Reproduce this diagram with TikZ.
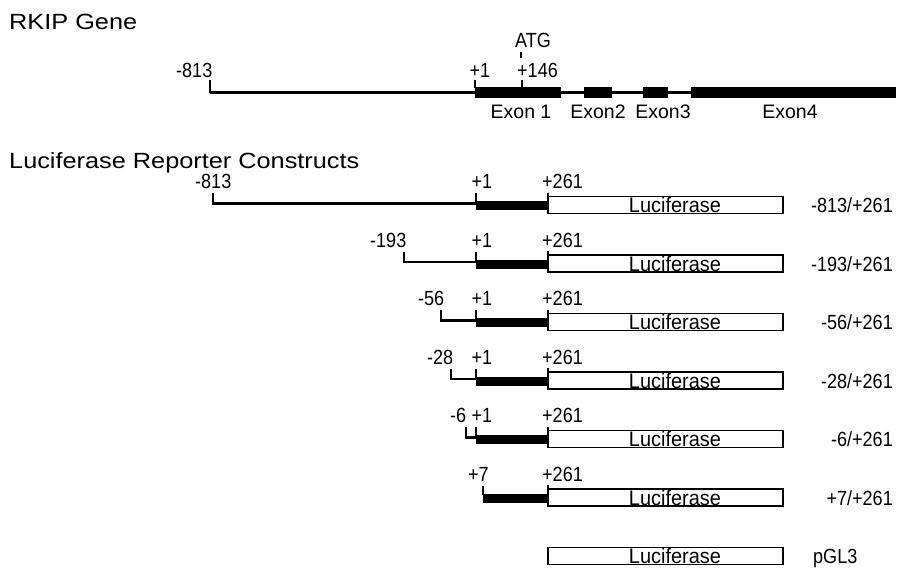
\documentclass[tikz,border=0pt]{standalone}
\usepackage{fontspec}
\setmainfont{Liberation Sans}
\newfontfamily\titlefont{Liberation Sans}[FakeStretch=1.15]
\newfontfamily\numfont{Liberation Sans}[FakeStretch=0.88]
\newfontfamily\lucfont{Liberation Sans}[FakeStretch=0.95]
\tikzset{
  lbl/.style={inner sep=0pt, font=\numfont\fontsize{20.5}{22}\selectfont},
  ttl/.style={inner sep=0pt, font=\titlefont\fontsize{22}{24}\selectfont},
  exlbl/.style={inner sep=0pt, font=\fontsize{19.5}{21}\selectfont},
  luctxt/.style={inner sep=0pt, font=\lucfont\fontsize{21}{22}\selectfont},
  dna/.style={line width=2.2pt},
  tickline/.style={line width=2pt},
  exonbox/.style={fill=black, draw=none},
  lucbox/.style={draw=black, line width=1.3pt, fill=white},
}
\begin{document}
\begin{tikzpicture}[x=1pt,y=-1pt]
\useasboundingbox (0,0) rectangle (901,571);
\fill[white] (0,0) rectangle (901,571);

% ---------- RKIP gene ----------
\node[ttl, anchor=base west] (t1) at (9,29) {RKIP Gene};
\coordinate (gs) at (210,92.5);
\coordinate (ge) at (896,92.5);
\draw[dna] (gs) -- (ge);
\draw[tickline] (210,80) -- (210,93);
\fill[exonbox] (475,87) rectangle (561,97.5);
\fill[exonbox] (584,87) rectangle (612,97.5);
\fill[exonbox] (643,87) rectangle (668,97.5);
\fill[exonbox] (691,87) rectangle (896,97.5);
\draw[tickline] (475,80) -- (475,88);
\draw[tickline,line width=1.6pt] (522,80) -- (522,88);
\draw[line width=1.4pt] (521,51.5) -- (521,58);
\node[lbl, anchor=base west] (g813) at (176,77) {-813};
\node[lbl, anchor=base west] (g1) at (469.5,77) {+1};
\node[lbl, anchor=base west] (g146) at (517,77) {+146};
\node[lbl, anchor=base west] (atg) at (515,47.5) {ATG};
\node[exlbl, anchor=base] (ex1) at (521,118) {Exon 1};
\node[exlbl, anchor=base] (ex2) at (598,118) {Exon2};
\node[exlbl, anchor=base] (ex3) at (663,118) {Exon3};
\node[exlbl, anchor=base] (ex4) at (790,118) {Exon4};

% ---------- constructs ----------
\node[ttl, anchor=base west] (t2) at (9,168) {Luciferase Reporter Constructs};

\foreach \k/\xs/\lx/\lab/\rl in {0/213/195/-813/{-813/+261}, 1/404/370/-193/{-193/+261}, 2/441/418/-56/{-56/+261}, 3/451/427/-28/{-28/+261}, 4/466/450/-6/{-6/+261}}{
  \begin{scope}[shift={(0,58.5*\k)}]
    \draw[dna] (\xs,193) |- (477,203.5);
    \fill[exonbox] (476,201) rectangle (548,210);
    \draw[tickline] (476,193) -- (476,202);
    \draw[lucbox] (548,196.5) rectangle (783,213.5);
    \draw[tickline] (548,192.5) -- (548,198);
    \node[lbl, anchor=base west] at (\lx,188.5) {\lab};
    \node[lbl, anchor=base west] at (471.5,188.5) {+1};
    \node[lbl, anchor=base west] at (542,188.5) {+261};
    \node[luctxt, anchor=base] at (675,212.5) {Luciferase};
    \node[lbl, anchor=base east] at (893,212.5) {\rl};
  \end{scope}
}

% +7 row
\begin{scope}[shift={(0,58.5*5)}]
  \fill[exonbox] (483,201) rectangle (548,210);
  \draw[tickline] (483,193) -- (483,202);
  \draw[lucbox] (548,196.5) rectangle (783,213.5);
  \draw[tickline] (548,192.5) -- (548,198);
  \node[lbl, anchor=base west] (p7) at (468,188.5) {+7};
  \node[lbl, anchor=base west] (p7e) at (542,188.5) {+261};
  \node[luctxt, anchor=base] (luc7) at (675,212.5) {Luciferase};
  \node[lbl, anchor=base east] (r7) at (893,212.5) {+7/+261};
\end{scope}

% pGL3 row
\begin{scope}[shift={(0,58.5*6)}]
  \draw[lucbox] (548,196.5) rectangle (783,213.5);
  \node[luctxt, anchor=base] (lucp) at (675,212.5) {Luciferase};
  \node[lbl, anchor=base west] (pgl) at (813,212.5) {pGL3};
\end{scope}
\end{tikzpicture}
\end{document}
